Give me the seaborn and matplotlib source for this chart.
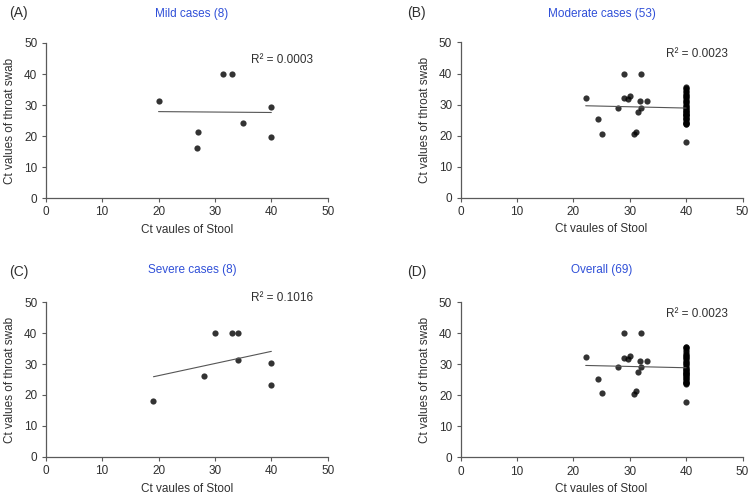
import numpy as np
import pandas as pd
import matplotlib
matplotlib.use("Agg")
import matplotlib.pyplot as plt
import seaborn as sns

# --- values ---
mild_stool = [20.0, 31.5, 33.0, 27.0, 26.8, 35.0, 40.0, 40.0]
mild_throat = [31.2, 40.0, 40.0, 21.2, 16.1, 24.2, 29.3, 19.7]

severe_stool = [19.1, 28.0, 30.0, 33.0, 34.0, 34.0, 40.0, 40.0]
severe_throat = [18.0, 26.1, 40.0, 40.0, 40.0, 31.2, 30.2, 23.1]

# scattered points + the pile-up at Ct = 40 (undetected in stool)
moderate_stool = ([22.2, 24.3, 25.1, 28.0, 29.0, 29.0, 29.7, 30.0, 32.0, 31.8,
                   32.0, 31.4, 33.0, 30.7, 31.2] + [40.0] * 38)
moderate_throat = [32.2, 25.3, 20.6, 29.0, 40.0, 32.0, 31.8, 32.8, 40.0, 31.2,
                   29.0, 27.5, 31.1, 20.5, 21.3,
                   17.8, 23.6, 24.0, 24.4, 24.9, 25.3, 25.8, 26.2, 26.7, 27.1,
                   27.6, 28.0, 28.4, 28.8, 29.2, 29.6, 30.0, 30.4, 30.8, 31.2,
                   31.6, 32.0, 32.3, 32.7, 33.0, 33.4, 28.3, 34.1, 34.5, 26.8,
                   35.1, 35.4, 35.7, 24.2, 25.5, 26.5, 27.5, 23.8]

# panel D in the paper shows the same points as panel B
overall_stool = moderate_stool
overall_throat = moderate_throat

letters = ["(A)", "(B)", "(C)", "(D)"]
titles = ["Mild cases (8)", "Moderate cases (53)", "Severe cases (8)", "Overall (69)"]
r2_labels = ["R\u00b2 = 0.0003", "R\u00b2 = 0.0023", "R\u00b2 = 0.1016", "R\u00b2 = 0.0023"]
r2_y = [44.5, 46.4, 51.3, 46.2]

xs = [mild_stool, moderate_stool, severe_stool, overall_stool]
ys = [mild_throat, moderate_throat, severe_throat, overall_throat]

sns.set_theme(style="ticks")
plt.rcParams['font.family'] = ['Liberation Sans', 'DejaVu Sans']

fig = plt.figure(figsize=(7.5, 4.94), dpi=100)

rects = [[0.061, 0.599, 0.376, 0.314],
         [0.614, 0.600, 0.376, 0.314],
         [0.061, 0.0755, 0.376, 0.3125],
         [0.614, 0.0743, 0.376, 0.314]]
letter_pos = [(0.012, 0.973), (0.543, 0.973), (0.012, 0.450), (0.543, 0.450)]
title_pos = [(0.256, 0.972), (0.802, 0.972), (0.256, 0.453), (0.802, 0.453)]

spine_col = "#5a5a5a"
txt_col = "#303030"

for i in range(4):
    ax = fig.add_axes(rects[i])
    df = pd.DataFrame({"stool": xs[i], "throat": ys[i]})
    sns.regplot(data=df, x="stool", y="throat", ax=ax, ci=None,
                scatter_kws=dict(s=20, color="black", linewidths=0),
                line_kws=dict(color="#555555", lw=0.8))
    ax.set_xlim(0, 50)
    ax.set_ylim(0, 50)
    ax.set_xticks(np.arange(0, 51, 10))
    ax.set_yticks(np.arange(0, 51, 10))
    ax.tick_params(labelsize=8.5, colors=spine_col, labelcolor=txt_col,
                   length=3, width=0.8, pad=3)
    for side in ["top", "right"]:
        ax.spines[side].set_visible(False)
    for side in ["left", "bottom"]:
        ax.spines[side].set_color(spine_col)
        ax.spines[side].set_linewidth(0.9)
    ax.set_xlabel("Ct vaules of Stool", fontsize=8.5, color=txt_col, labelpad=4)
    ax.set_ylabel("Ct values of throat swab", fontsize=8.5, color=txt_col, labelpad=6)
    ax.text(36.4, r2_y[i], r2_labels[i], fontsize=8.5, color=txt_col, va="center")
    ax.patch.set_alpha(0)

    fig.text(letter_pos[i][0], letter_pos[i][1], letters[i], fontsize=10,
             color=txt_col, va="center")
    fig.text(title_pos[i][0], title_pos[i][1], titles[i], fontsize=8.5,
             color="#3050d8", va="center", ha="center")

fig.savefig("out.png", dpi=100)
